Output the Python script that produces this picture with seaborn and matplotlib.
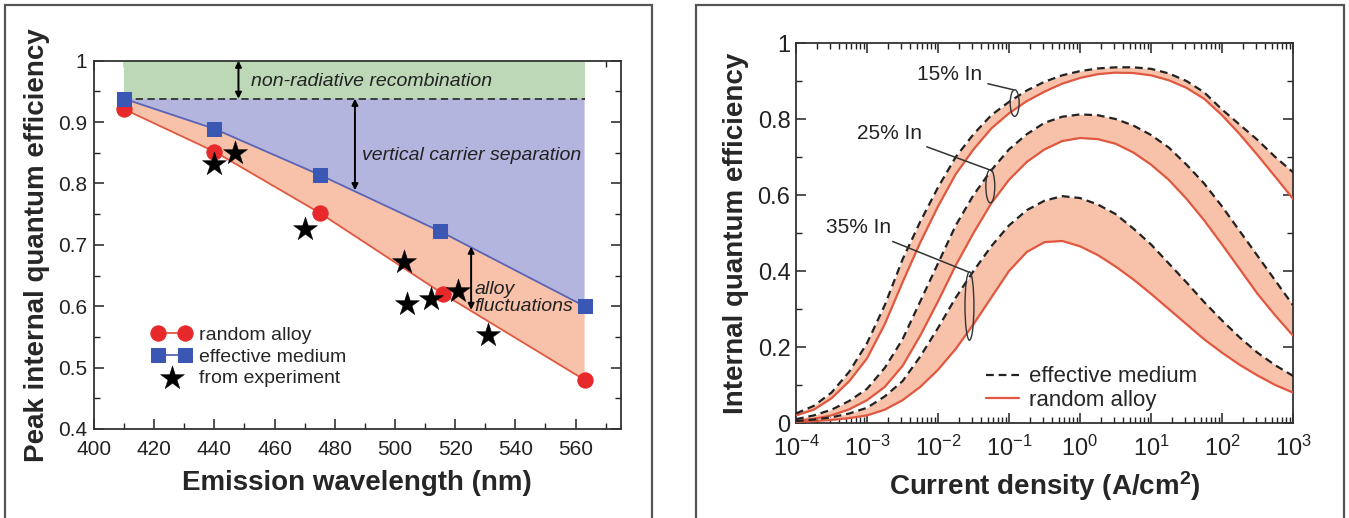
import numpy as np
import pandas as pd
import matplotlib
matplotlib.use("Agg")
import matplotlib.pyplot as plt
import seaborn as sns
from matplotlib.patches import Ellipse, Rectangle
from matplotlib.ticker import MultipleLocator, LogLocator, NullFormatter

# ---------------- data: left panel ----------------
wavelength_random = [410, 440, 475, 516, 563]
iqe_random_alloy = [0.921, 0.852, 0.752, 0.620, 0.480]
wavelength_effective = [410, 440, 475, 515, 563]
iqe_effective_medium = [0.938, 0.889, 0.814, 0.722, 0.600]
wavelength_experiment = [440, 447, 470, 503, 504, 512, 521, 531]
iqe_experiment = [0.832, 0.850, 0.726, 0.672, 0.604, 0.612, 0.625, 0.553]
nonradiative_limit = 0.938

# ---------------- data: right panel ----------------
log_current = [-4, -3.75, -3.5, -3.25, -3, -2.75, -2.5, -2.25, -2, -1.75, -1.5, -1.25,
               -1, -0.75, -0.5, -0.25, 0, 0.25, 0.5, 0.75, 1, 1.25, 1.5, 1.75,
               2, 2.25, 2.5, 2.75, 3]
em_15 = [0.025, 0.045, 0.08, 0.135, 0.21, 0.31, 0.43, 0.53, 0.62, 0.70, 0.76, 0.81,
         0.845, 0.875, 0.898, 0.915, 0.926, 0.933, 0.936, 0.936, 0.932, 0.92, 0.90, 0.87,
         0.825, 0.785, 0.745, 0.70, 0.66]
ra_15 = [0.02, 0.035, 0.065, 0.11, 0.17, 0.26, 0.37, 0.475, 0.57, 0.655, 0.72, 0.775,
         0.815, 0.847, 0.872, 0.893, 0.908, 0.918, 0.922, 0.921, 0.915, 0.902, 0.882, 0.853,
         0.81, 0.76, 0.705, 0.648, 0.59]
em_25 = [0.01, 0.02, 0.035, 0.058, 0.09, 0.145, 0.22, 0.32, 0.42, 0.52, 0.60, 0.665,
         0.72, 0.76, 0.79, 0.806, 0.812, 0.81, 0.80, 0.783, 0.758, 0.725, 0.68, 0.63,
         0.57, 0.505, 0.44, 0.375, 0.31]
ra_25 = [0.005, 0.011, 0.02, 0.036, 0.06, 0.095, 0.15, 0.23, 0.32, 0.415, 0.50, 0.578,
         0.64, 0.687, 0.72, 0.742, 0.75, 0.747, 0.735, 0.712, 0.68, 0.64, 0.59, 0.533,
         0.47, 0.405, 0.34, 0.283, 0.23]
em_35 = [0.005, 0.009, 0.015, 0.025, 0.04, 0.07, 0.11, 0.175, 0.25, 0.33, 0.40, 0.465,
         0.52, 0.56, 0.585, 0.597, 0.592, 0.575, 0.55, 0.512, 0.47, 0.42, 0.37, 0.318,
         0.27, 0.225, 0.185, 0.152, 0.124]
ra_35 = [0.003, 0.005, 0.008, 0.013, 0.02, 0.035, 0.06, 0.095, 0.14, 0.195, 0.26, 0.33,
         0.40, 0.45, 0.476, 0.479, 0.465, 0.442, 0.412, 0.378, 0.34, 0.30, 0.26, 0.22,
         0.185, 0.153, 0.125, 0.10, 0.08]
indium_labels = ["15% In", "25% In", "35% In"]

current_density = [10.0 ** v for v in log_current]

# ---------------- style ----------------
sns.set_theme(style="ticks")
plt.rcParams["font.family"] = ["Liberation Sans", "DejaVu Sans"]
plt.rcParams["mathtext.fontset"] = "custom"
plt.rcParams["mathtext.rm"] = "Liberation Sans"
plt.rcParams["mathtext.bf"] = "Liberation Sans:bold"
plt.rcParams["mathtext.default"] = "regular"

W, H = 1349, 518
fig = plt.figure(figsize=(W / 100, H / 100), dpi=100)
fig.patch.set_facecolor("white")

def fb(x0, y0, x1, y1):
    return [x0 / W, 1 - y1 / H, (x1 - x0) / W, (y1 - y0) / H]

axL = fig.add_axes(fb(94, 60.7, 620.7, 429))
axR = fig.add_axes(fb(796, 43, 1293, 423))

# panel frames
for x0, x1 in [(4.5, 652), (696, 1344)]:
    fig.add_artist(Rectangle((x0 / W, -0.05), (x1 - x0) / W, 1.05 - 5 / H,
                             transform=fig.transFigure, fill=False,
                             ec="#555555", lw=1.6))

GREEN = "#bcd8b6"
BLUE_FILL = "#b3b5de"
SALMON = "#f7c1aa"
RED = "#e8292b"
RED_LINE = "#e0583f"
BLUE = "#3a58b3"
BLUE_LINE = "#5964b5"

# ---------------- left panel ----------------
ax = axL
ax.fill_between([wavelength_effective[0], wavelength_effective[-1]],
                nonradiative_limit, 1.0, color=GREEN, lw=0, zorder=1)
ax.fill(wavelength_effective + [wavelength_effective[-1], wavelength_effective[0]],
        iqe_effective_medium + [nonradiative_limit, nonradiative_limit],
        color=BLUE_FILL, lw=0, zorder=1)
ax.fill(wavelength_effective + wavelength_random[::-1],
        iqe_effective_medium + iqe_random_alloy[::-1],
        color=SALMON, lw=0, zorder=1)
ax.plot([wavelength_effective[0], wavelength_effective[-1]],
        [nonradiative_limit, nonradiative_limit], ls=(0, (4, 2.5)),
        color="#333333", lw=1.3, zorder=2)

sns.lineplot(x=wavelength_random, y=iqe_random_alloy, ax=ax, color=RED_LINE,
             lw=1.3, marker="o", markersize=11, markerfacecolor=RED,
             markeredgecolor=RED, zorder=4, label="random alloy")
sns.lineplot(x=wavelength_effective, y=iqe_effective_medium, ax=ax, color=BLUE_LINE,
             lw=1.3, marker="s", markersize=10, markerfacecolor=BLUE,
             markeredgecolor=BLUE, zorder=4, label="effective medium")
sns.scatterplot(x=wavelength_experiment, y=iqe_experiment, ax=ax, marker="*",
                s=330, color="black", edgecolor="black", linewidth=0.3,
                zorder=5, label="from experiment")

arrow = dict(arrowstyle="<|-|>", lw=1.4, color="black", shrinkA=0, shrinkB=0,
             mutation_scale=9)
ax.annotate("", xy=(448, 1.0), xytext=(448, nonradiative_limit), arrowprops=arrow, zorder=6)
ax.annotate("", xy=(486.7, nonradiative_limit), xytext=(486.7, 0.789), arrowprops=arrow, zorder=6)
ax.annotate("", xy=(525.3, 0.697), xytext=(525.3, 0.594), arrowprops=arrow, zorder=6)

ax.text(452, 0.966, "non-radiative recombination", style="italic", fontsize=14,
        ha="left", va="center", color="#222222", zorder=6)
ax.text(489, 0.846, "vertical carrier separation", style="italic", fontsize=14,
        ha="left", va="center", color="#222222", zorder=6)
ax.text(526.3, 0.628, "alloy", style="italic", fontsize=14,
        ha="left", va="center", color="#222222", zorder=6)
ax.text(526.3, 0.600, "fluctuations", style="italic", fontsize=14,
        ha="left", va="center", color="#222222", zorder=6)

ax.set_xlim(400, 575)
ax.set_ylim(0.4, 1.0)
ax.xaxis.set_major_locator(MultipleLocator(20))
ax.xaxis.set_minor_locator(MultipleLocator(10))
ax.yaxis.set_minor_locator(MultipleLocator(0.05))
ax.set_yticks([0.4, 0.5, 0.6, 0.7, 0.8, 0.9, 1.0])
ax.set_yticklabels(["0.4", "0.5", "0.6", "0.7", "0.8", "0.9", "1"])
ax.set_xlabel("Emission wavelength (nm)", fontsize=20, fontweight="bold", labelpad=8)
ax.set_ylabel("Peak internal quantum efficiency", fontsize=20, fontweight="bold", labelpad=6)
leg = ax.legend(loc="upper left", bbox_to_anchor=(0.085, 0.315), frameon=False,
                fontsize=14, handlelength=2.0, handletextpad=0.4, labelspacing=0.2,
                borderpad=0.2, numpoints=2)
leg.legend_handles[2].set_sizes([330])

# ---------------- right panel ----------------
ax = axR
pairs = [(em_15, ra_15), (em_25, ra_25), (em_35, ra_35)]
for i, (em, ra) in enumerate(pairs):
    ax.fill_between(current_density, em, ra, color=SALMON, lw=0, zorder=1)
    sns.lineplot(x=current_density, y=ra, ax=ax, color=RED_LINE, lw=1.6, zorder=3,
                 label="random alloy" if i == 0 else None)
    sns.lineplot(x=current_density, y=em, ax=ax, color="#222222", lw=1.6,
                 linestyle=(0, (3.5, 2.2)), zorder=4,
                 label="effective medium" if i == 0 else None)

ax.set_xscale("log")
ax.set_xlim(1e-4, 1e3)
ax.set_ylim(0, 1)
ax.xaxis.set_major_locator(LogLocator(base=10, numticks=20))
ax.xaxis.set_minor_locator(LogLocator(base=10, subs=np.arange(2, 10), numticks=20))
ax.xaxis.set_minor_formatter(NullFormatter())
ax.set_yticks([0, 0.2, 0.4, 0.6, 0.8, 1.0])
ax.set_yticklabels(["0", "0.2", "0.4", "0.6", "0.8", "1"])
ax.yaxis.set_minor_locator(MultipleLocator(0.1))
ax.set_xlabel("Current density (A/cm$^\\mathbf{2}$)", fontsize=20, fontweight="bold", labelpad=6)
ax.set_ylabel("Internal quantum efficiency", fontsize=20, fontweight="bold", labelpad=6)

# ellipses + labels (axes-fraction coords)
ell = [(0.440, 0.842, 0.018, 0.070), (0.391, 0.623, 0.018, 0.088), (0.349, 0.308, 0.018, 0.180)]
txt = [(0.374, 0.917), (0.253, 0.763), (0.191, 0.514)]
for (cx, cy, w, h), (tx, ty), lab in zip(ell, txt, indium_labels):
    ax.add_patch(Ellipse((cx, cy), w, h, transform=ax.transAxes, fill=False,
                         ec="#333333", lw=1.0, zorder=6))
    ax.annotate(lab, xy=(cx - 0.003, cy + h / 2), xycoords="axes fraction",
                xytext=(tx, ty), textcoords="axes fraction", ha="right", va="center",
                fontsize=15, color="#222222",
                arrowprops=dict(arrowstyle="-", lw=1.1, color="#333333",
                                shrinkA=2, shrinkB=0), zorder=6)

handles, labels = ax.get_legend_handles_labels()
order = [labels.index("effective medium"), labels.index("random alloy")]
ax.legend([handles[k] for k in order], [labels[k] for k in order],
          loc="upper left", bbox_to_anchor=(0.35, 0.19), frameon=False, fontsize=16,
          handlelength=1.5, handletextpad=0.45, labelspacing=0.1, borderpad=0.2)

for a, ls in ((axL, 15), (axR, 17)):
    a.tick_params(which="both", direction="in", top=True, right=True,
                  labelsize=ls, colors="#222222")
    a.tick_params(which="major", length=7, width=1.1, pad=5)
    a.tick_params(which="minor", length=4, width=1.0)
    for s in a.spines.values():
        s.set_linewidth(1.3)
        s.set_color("#333333")
    a.set_facecolor("white")
axL.tick_params(axis="x", which="major", pad=8)
axR.tick_params(axis="x", which="major", pad=9)
axR.tick_params(axis="y", which="major", pad=4)

fig.savefig("out.png", dpi=100)
